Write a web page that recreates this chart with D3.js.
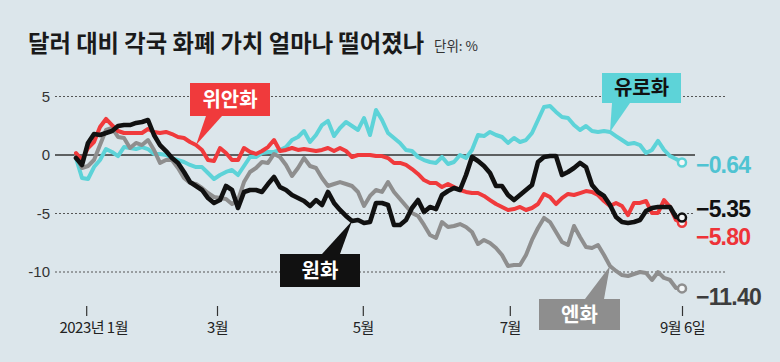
<!DOCTYPE html>
<html>
<head>
<meta charset="utf-8">
<script src="https://cdn.jsdelivr.net/npm/d3@7"></script>
<style>
  html, body { margin: 0; padding: 0; background: #dce6eb; }
  svg { display: block; font-family: "Noto Sans CJK KR", "Noto Sans", sans-serif; }
</style>
</head>
<body>
<svg id="chart" width="780" height="362"></svg>
<script>
// % change vs USD since start of 2023, sampled along the period (index = sample)
const yuan = [0.17, -0.43, 0.6, 1.11, 2.39, 3.08, 2.56, 2.05, 1.88, 1.88, 1.88, 1.88, 2.22, 1.97, 1.88, 1.97, 1.79, 1.54, 1.45, 1.11,
  0.85, 0.43, -0.43, -0.51, 0.6, 0.17, -0.43, -0.43, 0.6, 0.26, 0.09, 0.34, 0.68, 1.28, 0.34, 0.43, 0.6, 0.43, 0.51, 0.43,
  0.34, 0.43, 0.6, 0.34, 0.6, 0.34, -0.17, 0, 0, 0, -0.09, -0.09, -0.26, -0.68, -0.68, -0.85, -1.2, -1.62, -2.14, -2.39,
  -2.39, -2.74, -2.48, -2.74, -2.99, -3.16, -3.25, -3.25, -3.5, -3.85, -4.19, -4.44, -4.7, -4.62, -4.44, -4.7, -4.53, -4.19, -3.33, -3.59,
  -4.19, -3.68, -3.33, -3.42, -3.25, -3.08, -3.16, -3.42, -3.93, -4.36, -4.1, -4.36, -5.13, -4.1, -4.1, -3.93, -4.96, -4.96, -3.85, -4.44,
  -5.56, -5.8]
const euro = [-0.26, -1.97, -2.05, -1.03, -0.43, 0.51, 0.26, -0.09, 0.68, 0.6, 0.51, 0.68, 0.51, 0.09, 0.09, 0, -0.26, -0.43, -0.6, -0.85,
  -1.03, -1.03, -1.54, -2.05, -1.71, -1.45, -1.28, -1.71, -0.94, -0.17, -0.17, 0.17, 0.26, 0.26, 0.43, 0.68, 1.28, 1.54, 2.05, 1.11,
  1.71, 2.56, 2.91, 1.62, 2.31, 2.82, 2.48, 2.14, 3.16, 1.71, 3.85, 2.99, 1.88, 1.45, 1.03, 0.43, 0.34, -0.17, -0.43, -0.6,
  -0.68, -0.17, -0.77, -0.6, 0, -0.26, 0.43, 1.71, 1.62, 1.97, 1.71, 1.54, 1.03, 1.45, 1.11, 1.28, 1.88, 2.99, 4.1, 4.19,
  3.68, 3.25, 3.16, 2.56, 2.14, 2.48, 2.05, 1.97, 2.05, 1.97, 1.62, 1.28, 0.94, 1.03, 0.85, 0.17, 0.43, 1.2, 0.43, -0.09,
  -0.34, -0.64]
const yen = [-0.09, -1.11, -0.94, -0.43, 0.85, 2.14, 2.31, 1.54, 1.45, 0.6, 1.03, 0.85, 1.28, 0.43, -0.68, -0.43, -0.43, -1.11, -1.97, -2.39,
  -2.48, -2.82, -3.25, -3.59, -3.68, -3.76, -4.19, -3.85, -2.31, -1.45, -1.11, -0.6, -0.68, 0.09, -0.17, -0.85, -1.79, -1.11, -0.26, -0.94,
  -1.11, -1.97, -2.65, -2.48, -2.31, -2.48, -2.65, -3.16, -4.36, -3.5, -2.99, -3.16, -2.31, -3.16, -3.76, -4.36, -4.96, -5.21, -5.98, -6.84,
  -7.09, -5.73, -6.15, -6.07, -5.9, -6.15, -6.58, -7.61, -7.26, -7.52, -7.95, -8.55, -9.49, -9.4, -9.4, -8.55, -7.26, -6.24, -5.38, -5.73,
  -6.58, -7.44, -7.69, -6.07, -7.01, -7.86, -7.95, -7.69, -8.55, -9.49, -9.91, -10.26, -10.34, -10.17, -10, -10.09, -10.68, -10, -10.51, -10.68,
  -11.37, -11.4]
const won = [-0.26, -0.85, 1.03, 1.79, 1.71, 1.88, 2.05, 2.48, 2.56, 2.56, 2.74, 2.82, 2.99, 1.71, 0.85, 0.34, -0.26, -0.68, -1.45, -2.31,
  -2.65, -2.99, -3.68, -4.1, -3.85, -2.65, -2.99, -4.53, -3.16, -2.99, -2.99, -3.16, -2.48, -1.88, -2.74, -2.99, -3.42, -3.68, -3.93, -4.36,
  -3.85, -4.27, -3.16, -4.1, -4.7, -5.21, -5.64, -5.56, -5.81, -5.73, -4.1, -4.1, -4.27, -5.98, -5.98, -5.56, -4.53, -3.85, -4.87, -4.44,
  -4.62, -3.42, -3.08, -2.82, -2.99, -1.71, -0.17, -0.51, -0.94, -1.54, -2.65, -2.65, -3.42, -3.85, -3.42, -2.99, -2.56, -0.6, -0.17, -0.09,
  -0.09, -1.71, -1.45, -1.11, -0.68, -1.03, -2.56, -3.16, -3.5, -4.27, -5.3, -5.73, -5.81, -5.73, -5.56, -4.79, -4.53, -4.44, -4.44, -4.44,
  -5.3, -5.35]

const tickLabels = ['2023년 1월', '3월', '5월', '7월', '9월 6일']
const tickIdx = [1.7, 23.5, 47.8, 72.3, 101]
const yTicks = [5, 0, -5, -10]

const series = [
  { name: '유로화', values: euro, color: '#5dd3d8', width: 4, label: '−0.64', labelColor: '#4fc3d2', dy: 173 },
  { name: '엔화', values: yen, color: '#8e8e8e', width: 4, label: '−11.40', labelColor: '#3d3d3d', dy: 305 },
  { name: '위안화', values: yuan, color: '#f03a3c', width: 4, label: '−5.80', labelColor: '#ee3338', dy: 245 },
  { name: '원화', values: won, color: '#111', width: 4.6, label: '−5.35', labelColor: '#111', dy: 217 }
]

const svg = d3.select('#chart')

let x = d3.scaleLinear().domain([0, won.length - 1]).range([76, 682])
let y = d3.scaleLinear().domain([-12, 6]).range([155 + 12 * 11.7, 155 - 6 * 11.7])

// title
svg.append('text')
  .attr('x', 28).attr('y', 52)
  .attr('font-size', 23.3).attr('font-weight', 700)
  .attr('fill', '#1a1a1a')
  .text('달러 대비 각국 화폐 가치 얼마나 떨어졌나')
svg.append('text')
  .attr('x', 434).attr('y', 51)
  .attr('font-size', 13.5).attr('fill', '#333')
  .text('단위: %')

// y grid + labels
let yAxis = svg.append('g')
  .attr('transform', 'translate(55,0)')
  .call(d3.axisLeft(y).tickValues(yTicks).tickSize(0).tickPadding(5)
    .tickFormat(d => d < 0 ? '-' + Math.abs(d) : d))
yAxis.select('.domain').remove()
yAxis.selectAll('text')
  .attr('font-family', '"Liberation Sans", Arial, sans-serif')
  .attr('font-size', 15).attr('fill', '#333')

svg.append('g').selectAll('line')
  .data(yTicks.filter(d => d !== 0))
  .join('line')
  .attr('x1', 55).attr('x2', d => d === -5 ? 695 : 727)
  .attr('y1', d => y(d)).attr('y2', d => y(d))
  .attr('stroke', '#555').attr('stroke-width', 1)
  .attr('stroke-dasharray', '2,2')

svg.append('line')
  .attr('x1', 55).attr('x2', 695)
  .attr('y1', y(0)).attr('y2', y(0))
  .attr('stroke', '#333').attr('stroke-width', 1.6)

// x axis
let xAxis = svg.append('g')
  .attr('transform', 'translate(0,306)')
  .call(d3.axisBottom(x).tickValues(tickIdx).tickSize(10).tickPadding(6)
    .tickFormat((d, i) => tickLabels[i]))
xAxis.select('.domain').remove()
xAxis.selectAll('line').attr('stroke', '#333').attr('stroke-width', 1.2)
xAxis.selectAll('text')
  .attr('font-family', '"Noto Sans CJK KR", sans-serif')
  .attr('font-size', 15).attr('fill', '#222')
  .attr('letter-spacing', -0.5)
  .attr('dx', (d, i) => i === 0 ? 7 : 0)

// lines
let line = d3.line()
  .x((d, i) => x(i))
  .y(d => y(d))
  .curve(d3.curveLinear)

svg.append('g').selectAll('path')
  .data(series)
  .join('path')
  .attr('d', d => line(d.values))
  .attr('fill', 'none')
  .attr('stroke', d => d.color)
  .attr('stroke-width', d => d.width)
  .attr('stroke-linejoin', 'round')
  .attr('stroke-linecap', 'round')

// end points
svg.append('g').selectAll('circle')
  .data(series)
  .join('circle')
  .attr('cx', d => x(d.values.length - 1))
  .attr('cy', d => y(d.values[d.values.length - 1]))
  .attr('r', 4)
  .attr('fill', '#f3f6f7')
  .attr('stroke', d => d.color)
  .attr('stroke-width', 2.5)

// end value labels
svg.append('g').selectAll('text')
  .data(series)
  .join('text')
  .attr('x', 696)
  .attr('y', d => d.dy)
  .attr('font-family', '"Liberation Sans", Arial, sans-serif')
  .attr('font-size', 23).attr('font-weight', 700)
  .attr('letter-spacing', -0.8)
  .attr('fill', d => d.labelColor)
  .text(d => d.label)

// callout boxes
const callouts = [
  { s: 2, idx: 20, bx: 190, by: 83, bw: 80, bh: 33, base: [[206, 116], [222, 116]], fill: '#f03a3c', text: '#fff' },
  { s: 0, idx: 89, bx: 602, by: 73, bw: 79, bh: 30, base: [[612, 103], [630, 103]], fill: '#5dd3d8', text: '#111' },
  { s: 3, idx: 46, bx: 280, by: 254, bw: 80, bh: 33, base: [[322, 254], [340, 254]], fill: '#111', text: '#fff' },
  { s: 1, idx: 89, bx: 539, by: 299, bw: 81, bh: 31, base: [[585, 299], [604, 299]], fill: '#8e8e8e', text: '#fff' }
]

let cg = svg.append('g').selectAll('g')
  .data(callouts)
  .join('g')

cg.append('path')
  .attr('d', c => {
    let sv = series[c.s].values
    let tip = [x(c.idx), y(sv[c.idx])]
    return 'M' + c.base[0] + 'L' + tip + 'L' + c.base[1] + 'Z'
  })
  .attr('fill', c => c.fill)

cg.append('rect')
  .attr('x', c => c.bx).attr('y', c => c.by)
  .attr('width', c => c.bw).attr('height', c => c.bh)
  .attr('fill', c => c.fill)

cg.append('text')
  .attr('x', c => c.bx + c.bw / 2)
  .attr('y', c => c.by + c.bh / 2 + 7)
  .attr('text-anchor', 'middle')
  .attr('font-size', 20).attr('font-weight', 700)
  .attr('fill', c => c.text)
  .text(c => series[c.s].name)
</script>
</body>
</html>
